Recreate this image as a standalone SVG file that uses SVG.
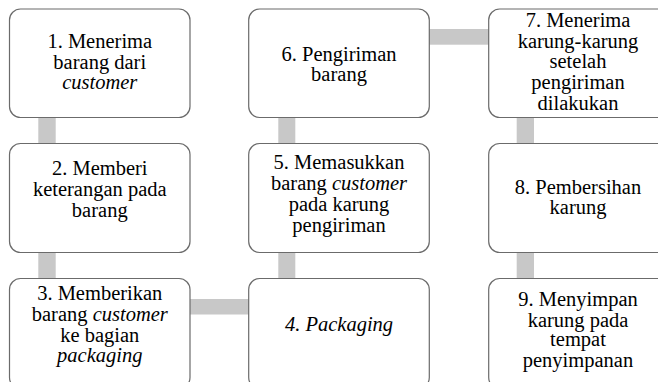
<svg xmlns="http://www.w3.org/2000/svg" width="658" height="382" viewBox="0 0 658 382">
<style>
.box{fill:#ffffff;stroke:#6b6b6b;stroke-width:1.2}
.bar{fill:#c8c8c8}
.t{font-size:20.5px;fill:#000;text-anchor:middle}
.i{font-style:italic}
</style>
<rect width="658" height="382" fill="#ffffff"/>
<g id="connectors">
<rect class="bar" x="38.3" y="117" width="17.4" height="27"/>
<rect class="bar" x="38.3" y="252" width="17.4" height="27"/>
<rect class="bar" x="189.5" y="299" width="60" height="15.5"/>
<rect class="bar" x="278.3" y="117" width="17" height="27"/>
<rect class="bar" x="278.3" y="252" width="17" height="27"/>
<rect class="bar" x="428.5" y="29" width="61" height="15.7"/>
<rect class="bar" x="516.7" y="117" width="17.3" height="27"/>
<rect class="bar" x="516.7" y="252" width="17.3" height="27"/>
</g>
<g id="node1" font-family="Liberation Serif">
<rect class="box" x="9.5" y="9" width="180.5" height="108.5" rx="11"/>
<text class="t" x="99.75" y="47.7">1. Menerima</text>
<text class="t" x="99.75" y="68.5">barang dari</text>
<text class="t i" x="99.75" y="89.3">customer</text>
</g>
<g id="node2" font-family="Liberation Serif">
<rect class="box" x="9.5" y="143.5" width="180.5" height="109" rx="11"/>
<text class="t" x="99.75" y="175">2. Memberi</text>
<text class="t" x="99.75" y="196">keterangan pada</text>
<text class="t" x="99.75" y="217">barang</text>
</g>
<g id="node3" font-family="Liberation Serif">
<rect class="box" x="9.5" y="278.5" width="180.5" height="110" rx="11"/>
<text class="t" x="99.75" y="300">3. Memberikan</text>
<text class="t" x="99.75" y="320.7">barang <tspan class="i">customer</tspan></text>
<text class="t" x="99.75" y="341.5">ke bagian</text>
<text class="t i" x="99.75" y="362.3">packaging</text>
</g>
<g id="node4" font-family="Liberation Serif">
<rect class="box" x="248.7" y="278.5" width="180.6" height="110" rx="11"/>
<text class="t i" x="339" y="331">4. Packaging</text>
</g>
<g id="node5" font-family="Liberation Serif">
<rect class="box" x="248.7" y="143.5" width="180.6" height="109" rx="11"/>
<text class="t" x="339" y="169">5. Memasukkan</text>
<text class="t" x="339" y="190">barang <tspan class="i">customer</tspan></text>
<text class="t" x="339" y="211">pada karung</text>
<text class="t" x="339" y="232">pengiriman</text>
</g>
<g id="node6" font-family="Liberation Serif">
<rect class="box" x="248.7" y="9" width="180.6" height="108.5" rx="11"/>
<text class="t" x="339" y="60.7">6. Pengiriman</text>
<text class="t" x="339" y="81">barang</text>
</g>
<g id="node7" font-family="Liberation Serif">
<rect class="box" x="488.7" y="9" width="180.6" height="108.5" rx="11"/>
<text class="t" x="578" y="26.7">7. Menerima</text>
<text class="t" x="578" y="47.5">karung-karung</text>
<text class="t" x="578" y="68.3">setelah</text>
<text class="t" x="578" y="89.1">pengiriman</text>
<text class="t" x="578" y="110">dilakukan</text>
</g>
<g id="node8" font-family="Liberation Serif">
<rect class="box" x="488.7" y="143.5" width="180.6" height="109" rx="11"/>
<text class="t" x="578" y="193.5">8. Pembersihan</text>
<text class="t" x="578" y="214">karung</text>
</g>
<g id="node9" font-family="Liberation Serif">
<rect class="box" x="488.7" y="278.5" width="180.6" height="110" rx="11"/>
<text class="t" x="578" y="305.7">9. Menyimpan</text>
<text class="t" x="578" y="326.5">karung pada</text>
<text class="t" x="578" y="346">tempat</text>
<text class="t" x="578" y="366.7">penyimpanan</text>
</g>
</svg>
